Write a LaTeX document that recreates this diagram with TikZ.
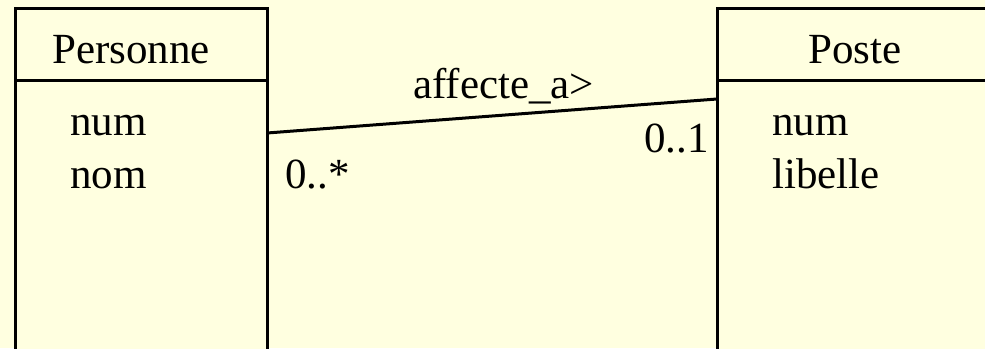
\documentclass[tikz,border=0pt]{standalone}
\usepackage{fontspec}
\setmainfont{Liberation Serif}
\definecolor{bgyellow}{RGB}{255,255,224}
\begin{document}
\begin{tikzpicture}[x=1pt,y=-1pt,
  box/.style={draw=black,line width=3pt,fill=bgyellow,inner sep=0pt,outer sep=0pt,anchor=north west},
  lbl/.style={font=\fontsize{43}{50}\selectfont,inner sep=0pt,anchor=base west},
  assoc/.style={draw=black,line width=3pt}]
\fill[bgyellow] (0,0) rectangle (985,348);
\useasboundingbox (0,0) rectangle (985,348);
\clip (0,0) rectangle (985,348);
% Personne
\node[box,minimum width=252pt,minimum height=72pt] (pH) at (15,8) {};
\node[box,minimum width=252pt,minimum height=300pt] (pB) at (15,80) {};
% Poste
\node[box,minimum width=300pt,minimum height=72pt] (qH) at (717,8) {};
\node[box,minimum width=300pt,minimum height=300pt] (qB) at (717,80) {};
% texts
\node[lbl] (pT) at (52,63) {Personne};
\node[lbl] (p1) at (70,135) {num};
\node[lbl] (p2) at (70,188) {nom};
\node[lbl] (qT) at (808,63) {Poste};
\node[lbl] (q1) at (772,135) {num};
\node[lbl] (q2) at (772,188) {libelle};
% association
\coordinate (a1) at (267,133);
\coordinate (a2) at (717,99);
\draw[assoc] (a1) -- (a2);
\node[lbl] (aT) at (413,98) {affecte\_a>};
\node[lbl] (m1) at (285,188) {0..*};
\node[lbl] (m2) at (644,152) {0..1};
\end{tikzpicture}
\end{document}
